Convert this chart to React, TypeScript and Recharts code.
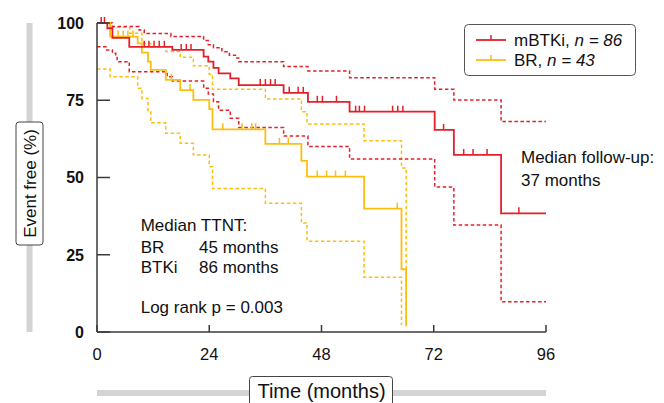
import React from 'react';
import { ComposedChart, Line, Scatter, XAxis, YAxis, Legend } from 'recharts';

const W = 664;
const H = 403;
const PLOT_LEFT = 97;
const PLOT_TOP = 23;
const PLOT_RIGHT = 546;
const PLOT_BOTTOM = 332;
const X_AXIS_H = 40;

const RED = '#E3202A';
const YELLOW = '#FDBE10';
const AXIS = '#3a3a3a';
const FONT = '"Liberation Sans", Arial, Helvetica, sans-serif';

const xTicks = [0, 24, 48, 72, 96];
const yTicks = [0, 25, 50, 75, 100];

// mBTKi (n = 86) Kaplan-Meier estimate, months / % event free
const mbtkiTime = [0, 2.2, 3.3, 6.9, 16.1, 22.8, 23.8, 24.9, 26.0, 28.5, 30.3, 39.9, 45.1, 54.0, 72.2, 76.3, 86.4, 96];
const mbtkiSurv = [100, 98.3, 95.2, 92.3, 91.3, 89.1, 87.5, 85.5, 83.7, 82.1, 79.9, 77.4, 74.5, 71.3, 65.4, 57.3, 38.4, 38.4];

const mbtkiUpperTime = [0, 3.3, 9.0, 10.1, 15.8, 22.8, 23.8, 24.9, 26.7, 28.3, 29.6, 30.3, 39.9, 45.1, 54.0, 72.2, 76.3, 86.4, 96];
const mbtkiUpper = [100, 98.9, 97.7, 96.6, 95.6, 94.3, 93.0, 92.0, 90.7, 89.6, 88.7, 87.5, 85.9, 84.5, 82.3, 78.6, 75.1, 68.1, 68.1];

const mbtkiLowerTime = [0, 1.9, 3.3, 4.0, 4.3, 6.9, 15.0, 16.1, 22.8, 23.8, 24.9, 26.0, 28.5, 30.3, 39.9, 45.1, 54.0, 72.2, 76.3, 86.4, 96];
const mbtkiLower = [92.3, 91.3, 90.2, 89.1, 87.5, 84.2, 82.6, 81.2, 78.9, 77.0, 74.5, 71.8, 69.2, 66.2, 63.4, 60.0, 56.0, 46.9, 34.6, 9.8, 9.8];

// BR (n = 43)
const brTime = [0, 2.8, 8.7, 9.6, 10.9, 11.5, 14.7, 17.8, 20.6, 24.0, 24.7, 36.0, 43.7, 44.9, 57.1, 65.1, 66.1];
const brSurv = [100, 95.6, 93.4, 90.4, 87.5, 84.8, 81.6, 78.3, 75.1, 72.1, 65.6, 60.9, 55.4, 50.3, 39.9, 20.3, 1.9];

const brUpperTime = [0, 2.8, 7.0, 9.6, 11.5, 14.7, 17.8, 20.6, 24.0, 24.7, 36.0, 43.7, 44.9, 57.1, 65.1, 66.1];
const brUpper = [100, 98.6, 96.7, 93.4, 92.2, 90.8, 88.9, 86.2, 83.4, 78.6, 75.4, 71.3, 67.3, 61.9, 53.1, 2.3];

const brLowerTime = [0, 2.8, 8.7, 9.6, 10.9, 11.5, 14.7, 17.8, 20.6, 24.0, 24.7, 36.0, 43.7, 44.9, 57.1, 65.1];
const brLower = [85.1, 82.6, 78.9, 75.6, 71.3, 67.7, 64.3, 61.1, 57.3, 53.5, 46.4, 41.7, 35.3, 29.4, 17.7, 2.3];

// censoring times
const mbtkiCensor = [0.9, 1.6, 10.1, 11.1, 12.2, 13.3, 14.4, 18.0, 19.1, 20.1, 34.9, 36.0, 37.1, 38.1, 41.1, 43.0, 44.1, 47.1, 48.2, 51.2, 55.3, 56.1, 57.2, 63.2, 64.3, 65.4, 74.1, 78.4, 80.4, 83.4, 90.2];
const brCensor = [4.5, 5.6, 6.6, 7.7, 15.9, 19.9, 26.9, 31.0, 33.1, 33.9, 39.0, 40.9, 47.1, 49.1, 51.0, 53.1, 64.2];

const toPoints = (ts: number[], vs: number[]) => ts.map((t, i) => ({ t, v: vs[i] }));
const stepAt = (ts: number[], vs: number[], t: number) => {
  let v = vs[0];
  for (let i = 0; i < ts.length; i++) if (ts[i] <= t) v = vs[i];
  return v;
};
const censorPoints = (cs: number[], ts: number[], vs: number[]) => cs.map((t) => ({ t, v: stepAt(ts, vs, t) }));

const mbtkiData = toPoints(mbtkiTime, mbtkiSurv);
const mbtkiUpperData = toPoints(mbtkiUpperTime, mbtkiUpper);
const mbtkiLowerData = toPoints(mbtkiLowerTime, mbtkiLower);
const brData = toPoints(brTime, brSurv);
const brUpperData = toPoints(brUpperTime, brUpper);
const brLowerData = toPoints(brLowerTime, brLower);
const mbtkiCensorData = censorPoints(mbtkiCensor, mbtkiTime, mbtkiSurv);
const brCensorData = censorPoints(brCensor, brTime, brSurv);

const YTick = (props: any) => {
  const { x, y, payload } = props;
  return (
    <g>
      <line x1={x} x2={x + 13} y1={y} y2={y} stroke={AXIS} strokeWidth={1.5} />
      <text x={x - 13} y={y} dy="0.36em" textAnchor="end" fontFamily={FONT} fontWeight="bold" fontSize={16} fill="#111">
        {payload.value}
      </text>
    </g>
  );
};

const XTick = (props: any) => {
  const { x, y, payload } = props;
  return (
    <g>
      <line x1={x} x2={x} y1={y} y2={y - 7} stroke={AXIS} strokeWidth={1.5} />
      <text x={x} y={y + 28} textAnchor="middle" fontFamily={FONT} fontSize={16.5} fill="#111">
        {payload.value}
      </text>
    </g>
  );
};

const censorShape = (color: string) => (props: any) => {
  const { cx, cy } = props;
  if (cx == null || cy == null) return <g />;
  return <line x1={cx} x2={cx} y1={cy} y2={cy - 6} stroke={color} strokeWidth={1.5} />;
};

const LegendBox = () => (
  <svg width={172} height={52} style={{ display: 'block' }}>
    <rect x={0.5} y={0.5} width={171} height={51} rx={4} fill="#fff" stroke="#555" strokeWidth={1} />
    <line x1={12} x2={42} y1={16} y2={16} stroke={RED} strokeWidth={1.8} />
    <line x1={27} x2={27} y1={16} y2={11} stroke={RED} strokeWidth={1.5} />
    <text x={50} y={16} dy="0.36em" fontFamily={FONT} fontSize={17} fill="#111">
      mBTKi, <tspan fontStyle="italic">n = 86</tspan>
    </text>
    <line x1={12} x2={42} y1={36} y2={36} stroke={YELLOW} strokeWidth={1.8} />
    <line x1={27} x2={27} y1={36} y2={31} stroke={YELLOW} strokeWidth={1.5} />
    <text x={50} y={36} dy="0.36em" fontFamily={FONT} fontSize={17} fill="#111">
      BR, <tspan fontStyle="italic">n = 43</tspan>
    </text>
  </svg>
);

const Overlay = () => {
  const midY = 183.5;
  const midX = (PLOT_LEFT + PLOT_RIGHT) / 2;
  return (
    <svg width={W} height={H} style={{ position: 'absolute', left: 0, top: 0, pointerEvents: 'none' }}>
      {/* y-axis title */}
      <rect x={26.5} y={PLOT_TOP} width={6} height={PLOT_BOTTOM - PLOT_TOP} fill="#d4d4d4" />
      <rect x={16} y={122} width={27} height={123} rx={3} fill="#fff" stroke="#444" strokeWidth={1} />
      <text x={29.5} y={midY} transform={`rotate(-90 29.5 ${midY})`} textAnchor="middle" dy="0.36em" fontFamily={FONT} fontSize={17} fill="#111">
        Event free (%)
      </text>
      {/* x-axis title */}
      <rect x={PLOT_LEFT} y={390} width={PLOT_RIGHT - PLOT_LEFT} height={6} fill="#d4d4d4" />
      <rect x={midX - 72} y={376.5} width={143} height={32} rx={3} fill="#fff" stroke="#444" strokeWidth={1} />
      <text x={midX} y={391} dy="0.36em" textAnchor="middle" fontFamily={FONT} fontSize={20} fill="#111">
        Time (months)
      </text>
      {/* annotations */}
      <g fontFamily={FONT} fontSize={17} fill="#111">
        <text x={521} y={163}>Median follow-up:</text>
        <text x={521} y={186}>37 months</text>
        <text x={140.7} y={231}>Median TTNT:</text>
        <text x={140.7} y={253}>BR</text>
        <text x={199} y={253}>45 months</text>
        <text x={140.7} y={273}>BTKi</text>
        <text x={199} y={273}>86 months</text>
        <text x={140.7} y={313}>Log rank p = 0.003</text>
      </g>
    </svg>
  );
};

export default function App() {
  return (
    <div style={{ position: 'absolute', left: 0, top: 0, width: W, height: H, background: '#fff' }}>
      <ComposedChart
        width={W}
        height={H}
        margin={{ top: PLOT_TOP, right: W - PLOT_RIGHT, left: 0, bottom: H - PLOT_BOTTOM - X_AXIS_H }}
      >
        <XAxis
          dataKey="t"
          type="number"
          domain={[0, 96]}
          ticks={xTicks}
          interval={0}
          height={X_AXIS_H}
          tickSize={0}
          tickMargin={0}
          tickLine={false}
          axisLine={{ stroke: AXIS, strokeWidth: 1.5 }}
          tick={<XTick />}
        />
        <YAxis
          dataKey="v"
          type="number"
          domain={[0, 100]}
          ticks={yTicks}
          interval={0}
          width={PLOT_LEFT}
          tickSize={0}
          tickMargin={0}
          tickLine={false}
          axisLine={{ stroke: AXIS, strokeWidth: 1.5 }}
          tick={<YTick />}
        />
        <Line data={brUpperData} dataKey="v" type="stepAfter" stroke={YELLOW} strokeWidth={1.5} strokeDasharray="3.5 2.5" dot={false} activeDot={false} isAnimationActive={false} />
        <Line data={brLowerData} dataKey="v" type="stepAfter" stroke={YELLOW} strokeWidth={1.5} strokeDasharray="3.5 2.5" dot={false} activeDot={false} isAnimationActive={false} />
        <Line data={mbtkiUpperData} dataKey="v" type="stepAfter" stroke={RED} strokeWidth={1.5} strokeDasharray="3.5 2.5" dot={false} activeDot={false} isAnimationActive={false} />
        <Line data={mbtkiLowerData} dataKey="v" type="stepAfter" stroke={RED} strokeWidth={1.5} strokeDasharray="3.5 2.5" dot={false} activeDot={false} isAnimationActive={false} />
        <Line data={brData} dataKey="v" type="stepAfter" stroke={YELLOW} strokeWidth={1.8} dot={false} activeDot={false} isAnimationActive={false} />
        <Line data={mbtkiData} dataKey="v" type="stepAfter" stroke={RED} strokeWidth={1.8} dot={false} activeDot={false} isAnimationActive={false} />
        <Scatter data={brCensorData} dataKey="v" shape={censorShape(YELLOW)} isAnimationActive={false} />
        <Scatter data={mbtkiCensorData} dataKey="v" shape={censorShape(RED)} isAnimationActive={false} />
        <Legend
          layout="horizontal"
          verticalAlign="middle"
          align="center"
          wrapperStyle={{ left: 464, top: 24, width: 172, height: 52 }}
          content={() => <LegendBox />}
        />
      </ComposedChart>
      <Overlay />
    </div>
  );
}
